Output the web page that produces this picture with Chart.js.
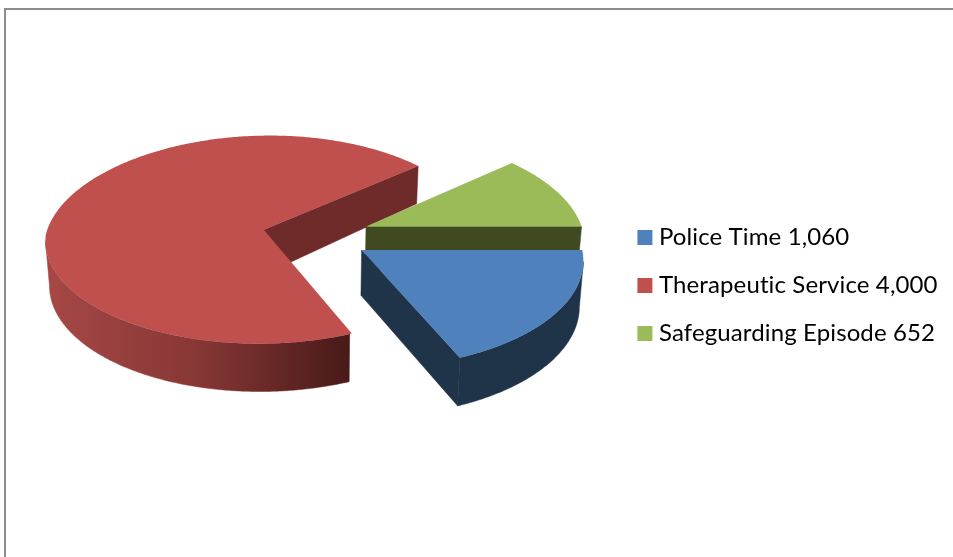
<!DOCTYPE html>
<html>
<head>
<meta charset="utf-8">
<title>Pie</title>
<style>
  html, body { margin: 0; padding: 0; background: #fff; overflow: hidden; }
  canvas { display: block; }
</style>
<script src="https://cdn.jsdelivr.net/npm/chart.js@4"></script>
</head>
<body>
<canvas id="pie" width="953" height="557"></canvas>
<script>
const categories = ['Police Time', 'Therapeutic Service', 'Safeguarding Episode'];
const values = [1060, 4000, 652];
const topColors = ['#4f81bd', '#c0504d', '#9bbb59'];
const sideColors = ['#1f3349', '#6e2b2a', '#404a20'];

const labels = categories.map((name, i) => name + ' ' + values[i].toLocaleString('en-US'));

// the 3d look: where the pie sits on the page and how it is tipped back
const originX = 316;
const originY = 235.5;
const squash = 0.478;
const perspective = 0.095;

function project(dx, dy, radius) {
  const v = dy / radius;
  const s = 1 / (1 - perspective * v);
  // the back of the pie narrows faster than the front widens
  const sx = 1 / (1 - (v < 0 ? 0.13 : 0.085) * v);
  return { x: originX + dx * sx, y: originY + dy * squash * s, v: v };
}

// the bottom rim is a bit narrower and the depth shrinks towards the back
function dropDown(p) {
  const depth = 45 + (p.v < 0 ? 10 * p.v : 3 * p.v);
  return { x: originX + (p.x - originX) * 0.985, y: p.y + depth };
}

function slicePoints(arc) {
  const { startAngle, endAngle, outerRadius } = arc.getProps(['startAngle', 'endAngle', 'outerRadius'], true);
  const mid = (startAngle + endAngle) / 2;
  const ox = Math.cos(mid) * arc.options.offset;
  const oy = Math.sin(mid) * arc.options.offset;
  const steps = Math.ceil((endAngle - startAngle) / 0.01);
  const rim = [];
  for (let i = 0; i <= steps; i++) {
    const a = startAngle + (endAngle - startAngle) * i / steps;
    rim.push(project(ox + Math.cos(a) * outerRadius, oy + Math.sin(a) * outerRadius, outerRadius));
  }
  return { apex: project(ox, oy, outerRadius), rim };
}

function fillWall(ctx, edge, style) {
  if (edge.length < 2) return;
  ctx.fillStyle = style;
  ctx.strokeStyle = style;
  ctx.lineWidth = 0.5;
  ctx.beginPath();
  edge.forEach((p, i) => (i ? ctx.lineTo(p.x, p.y) : ctx.moveTo(p.x, p.y)));
  edge.slice().reverse().forEach((p) => {
    const d = dropDown(p);
    ctx.lineTo(d.x, d.y);
  });
  ctx.closePath();
  ctx.fill();
  ctx.stroke();
}

const pie3d = {
  id: 'pie3d',
  beforeDraw(chart) {
    const ctx = chart.ctx;
    // a hair of spacing also keeps the "ti" in the legend from joining up
    ctx.letterSpacing = '0.12px';
    // the frame, open on the right and at the bottom
    ctx.fillStyle = '#8c8c8c';
    ctx.fillRect(4, 8, 949, 2);
    ctx.fillRect(4, 8, 2, 549);
  },
  beforeDatasetDraw(chart, args) {
    const ctx = chart.ctx;
    const arcs = args.meta.data;
    // back to front
    [1, 2, 0].forEach((index) => {
      const arc = arcs[index];
      const { apex, rim } = slicePoints(arc);

      let rimStyle = sideColors[index];
      if (index === 1) {
        rimStyle = ctx.createLinearGradient(45, 0, 350, 0);
        rimStyle.addColorStop(0, '#a64846');
        rimStyle.addColorStop(0.5, '#873735');
        rimStyle.addColorStop(1, '#471a18');
      }
      // only faces walked leftwards look at the viewer
      const front = rim.filter((p, i) => i > 0 && p.x < rim[i - 1].x);
      fillWall(ctx, front, rimStyle);
      const last = rim[rim.length - 1];
      if (apex.x < last.x) {
        fillWall(ctx, [last, apex], sideColors[index]);
      }

      ctx.fillStyle = arc.options.backgroundColor;
      ctx.beginPath();
      ctx.moveTo(apex.x, apex.y);
      rim.forEach((p) => ctx.lineTo(p.x, p.y));
      ctx.closePath();
      ctx.fill();
    });
    return false;
  },
};

new Chart(document.getElementById('pie'), {
  type: 'pie',
  data: {
    labels: labels,
    datasets: [{
      data: values,
      backgroundColor: topColors,
      borderWidth: 0,
      offset: 54,
    }],
  },
  plugins: [pie3d],
  options: {
    responsive: false,
    animation: false,
    rotation: 90,
    radius: 218,
    layout: { padding: { top: 14, right: 8, bottom: 0, left: 20 } },
    plugins: {
      tooltip: { enabled: false },
      legend: {
        position: 'right',
        labels: {
          usePointStyle: true,
          pointStyle: 'rect',
          boxWidth: 4,
          boxHeight: 15,
          padding: 24,
          color: '#000',
          font: { family: 'Lato', size: 24 },
        },
      },
    },
  },
});
</script>
</body>
</html>
